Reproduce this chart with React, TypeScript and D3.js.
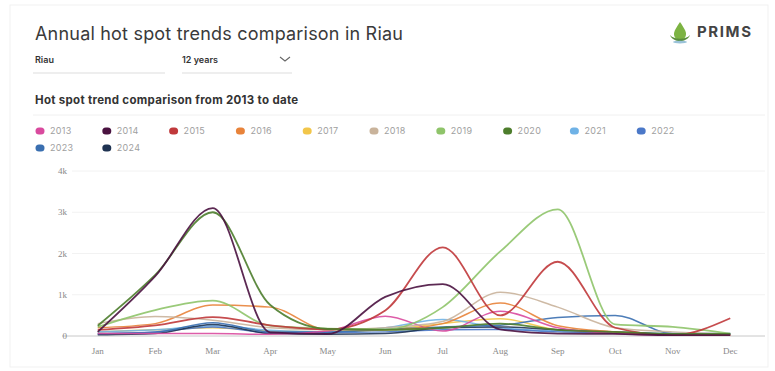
import React from 'react';
import * as d3 from 'd3';

const months = ['Jan', 'Feb', 'Mar', 'Apr', 'May', 'Jun', 'Jul', 'Aug', 'Sep', 'Oct', 'Nov', 'Dec'];
const years = ['2013', '2014', '2015', '2016', '2017', '2018', '2019', '2020', '2021', '2022', '2023', '2024'];
const colors = ['#d94a9e', '#4a1240', '#c0393b', '#e8833a', '#f2c64a', '#c9b39b', '#8fc46a', '#4d7d2c', '#6fb2e6', '#4b78c8', '#3a6fb0', '#1f3352'];

// monthly hot spot counts
const v2013 = [60, 60, 60, 40, 120, 480, 120, 600, 200, 60, 20, 20];
const v2014 = [100, 1450, 3100, 90, 50, 950, 1260, 160, 60, 50, 20, 20];
const v2015 = [150, 260, 460, 260, 160, 620, 2150, 500, 1800, 200, 20, 430];
const v2016 = [200, 300, 750, 700, 150, 150, 300, 800, 250, 100, 30, 20];
const v2017 = [100, 150, 200, 120, 100, 150, 300, 420, 150, 100, 50, 20];
const v2018 = [300, 470, 380, 200, 150, 200, 350, 1060, 700, 200, 100, 50];
const v2019 = [220, 630, 860, 250, 180, 160, 700, 2050, 3070, 280, 220, 60];
const v2020 = [250, 1480, 3000, 750, 170, 150, 200, 300, 150, 100, 50, 50];
const v2021 = [100, 150, 250, 140, 100, 200, 400, 200, 120, 100, 60, 50];
const v2022 = [50, 100, 220, 80, 80, 100, 150, 160, 100, 80, 50, 50];
const v2023 = [60, 90, 320, 100, 100, 160, 220, 260, 450, 500, 60, 60];
const v2024 = [30, 60, 280, 60, 40, 60, 200, 220, 150, 100, 40, 40];
const series = [v2013, v2014, v2015, v2016, v2017, v2018, v2019, v2020, v2021, v2022, v2023, v2024];

const yTicks = [0, 1000, 2000, 3000, 4000];
const yTickLabels = ['0', '1k', '2k', '3k', '4k'];

const W = 775;
const H = 371;

export default function App() {
  const x = d3.scalePoint<string>().domain(months).range([69, 759]).padding(0.5);
  const y = d3.scaleLinear().domain([0, 4000]).range([336, 171]);
  const line = d3
    .line<number>()
    .x((_, i) => x(months[i]) as number)
    .y((d) => y(d))
    .curve(d3.curveMonotoneX);

  // draw big series last so they sit on top like in the original
  const order = [4, 8, 9, 11, 10, 0, 3, 5, 6, 2, 7, 1];

  return (
    <svg width={W} height={H} style={{ position: 'absolute', left: 0, top: 0, background: '#fff' }}>
      <rect x={10} y={5} width={758} height={362} fill="#fff" stroke="#f1f1f1" />

      {/* header */}
      <text x={35} y={40} fontFamily="Inter, 'Open Sans', sans-serif" fontSize={18} fill="#3a3a3a" letterSpacing={0.2}>
        Annual hot spot trends comparison in Riau
      </text>
      <g transform="translate(670,22)">
        <path d="M10 0 C6 6 4 9 4 12 C4 15.5 6.7 18 10 18 C13.3 18 16 15.5 16 12 C16 9 14 6 10 0 Z" fill="#7cb342" />
        <path d="M0 13 C3 21 17 21 20 13 C16 18 4 18 0 13 Z" fill="#5a8f3a" />
        <ellipse cx={10} cy={20} rx={7} ry={1.5} fill="#6fa8c8" opacity={0.7} />
      </g>
      <text x={697} y={37} fontFamily="Inter, 'Open Sans', sans-serif" fontWeight={700} fontSize={15} fill="#444" letterSpacing={1.6}>
        PRIMS
      </text>

      {/* selectors */}
      <text x={35} y={63} fontFamily="Inter, sans-serif" fontSize={9} fontWeight={600} fill="#333">Riau</text>
      <line x1={33} x2={165} y1={73} y2={73} stroke="#ddd" />
      <text x={182} y={63} fontFamily="Inter, sans-serif" fontSize={9} fontWeight={600} fill="#333">12 years</text>
      <path d="M280 57 L285 61 L290 57" fill="none" stroke="#666" strokeWidth={1.1} />
      <line x1={182} x2={292} y1={73} y2={73} stroke="#ddd" />

      <text x={35} y={104} fontFamily="Inter, sans-serif" fontSize={11.5} fontWeight={700} fill="#333" letterSpacing={0.3}>
        Hot spot trend comparison from 2013 to date
      </text>
      <line x1={33} x2={765} y1={115} y2={115} stroke="#f0f0f0" />

      {/* legend */}
      {years.map((yr, i) => {
        const col = i % 10;
        const row = Math.floor(i / 10);
        const lx = 40 + col * 66.8;
        const ly = 131 + row * 17;
        return (
          <g key={yr}>
            <rect x={lx - 4.5} y={ly - 3.5} width={9} height={7} rx={3.5} fill={colors[i]} />
            <text x={lx + 10} y={ly + 3} fontFamily="Inter, sans-serif" fontSize={9} fill="#a0a0a0" letterSpacing={0.3}>{yr}</text>
          </g>
        );
      })}

      {/* grid + y axis */}
      {yTicks.map((t, i) => (
        <g key={t}>
          <line x1={t === 0 ? 62 : 72} x2={765} y1={y(t)} y2={y(t)} stroke={t === 0 ? '#c8c8c8' : '#f2f2f2'} />
          <text x={67} y={y(t) + 3} textAnchor="end" fontFamily="'Liberation Serif', serif" fontSize={9} fill="#888">
            {yTickLabels[i]}
          </text>
        </g>
      ))}

      {/* x axis labels */}
      {months.map((m) => (
        <text key={m} x={x(m)} y={354} textAnchor="middle" fontFamily="'Liberation Serif', serif" fontSize={9} fill="#888">
          {m}
        </text>
      ))}

      {/* lines */}
      {order.map((i) => (
        <path
          key={years[i]}
          d={line(series[i]) || ''}
          fill="none"
          stroke={colors[i]}
          strokeWidth={i === 1 || i === 7 || i === 2 || i === 6 ? 1.8 : 1.5}
          strokeOpacity={0.9}
        />
      ))}
    </svg>
  );
}
